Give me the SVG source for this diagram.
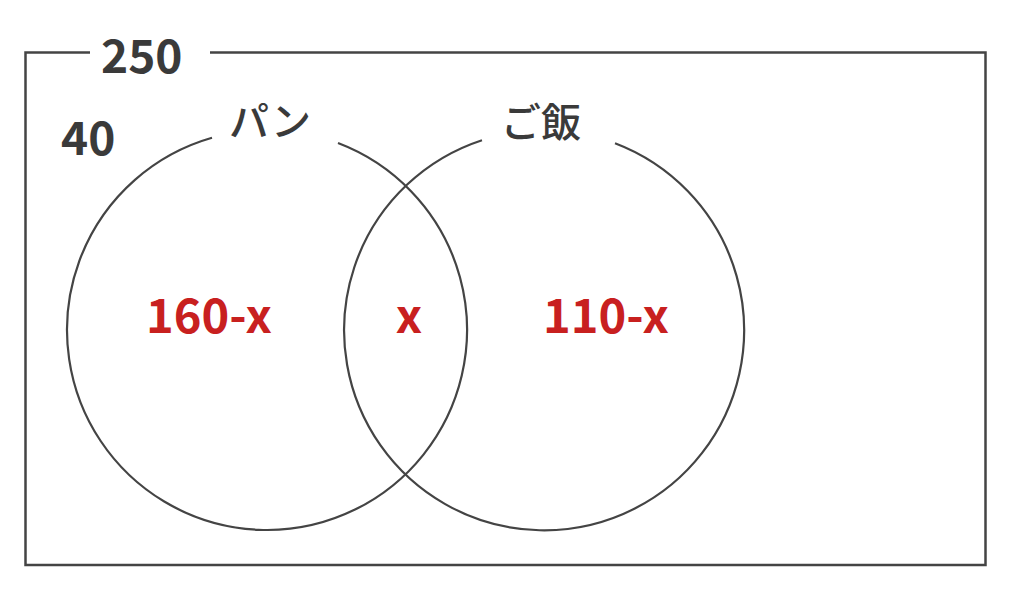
<svg xmlns="http://www.w3.org/2000/svg" width="1024" height="596" viewBox="0 0 1024 596">
  <style>
    .line { fill: none; stroke: #444; stroke-width: 2.2; }
    .frame { fill: none; stroke: #444; stroke-width: 2.5; }
    .num { font-family: "Noto Sans CJK JP", "Noto Sans", sans-serif; font-weight: 700; font-size: 46px; fill: #3a3a3a; }
    .lab { font-family: "Noto Sans CJK JP", sans-serif; font-weight: 500; font-size: 40px; fill: #3a3a3a; }
    .red { font-family: "Noto Sans CJK JP", "Noto Sans", sans-serif; font-weight: 700; font-size: 47px; fill: #c8201f; text-anchor: middle; }
  </style>
  <rect width="1024" height="596" fill="#fff"/>
  <g id="universe">
    <path class="frame" d="M90,52.5 H25.5 V565 H985.5 V52.5 H210"/>
    <text class="num" x="101" y="73">250</text>
    <text class="num" x="61" y="155">40</text>
  </g>
  <g id="pan">
    <path class="line" d="M338,143 A200,200 0 1 1 212,137.7"/>
    <text class="lab" x="229" y="136">パン</text>
    <text class="red" x="209" y="333">160-x</text>
  </g>
  <g id="gohan">
    <path class="line" d="M615,143.3 A200,200 0 1 1 482,140.2"/>
    <text class="lab" x="501" y="137">ご飯</text>
    <text class="red" x="606" y="333">110-x</text>
  </g>
  <g id="both">
    <text class="red" x="409" y="333">x</text>
  </g>
  <g id="connectors"></g>
</svg>
